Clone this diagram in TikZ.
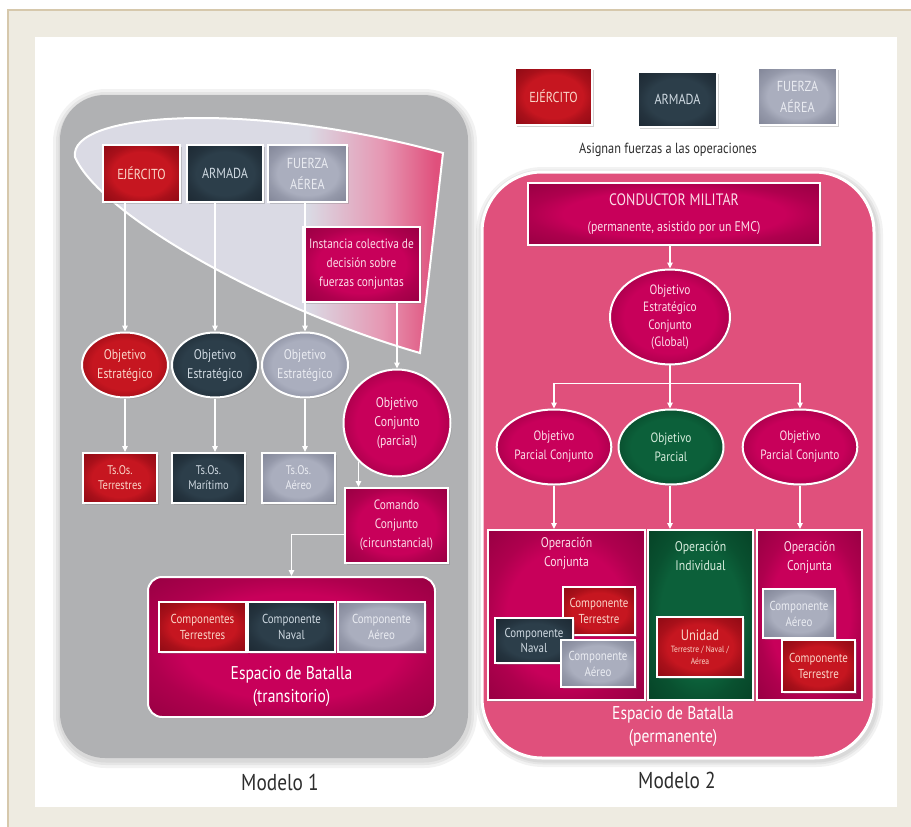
\documentclass[tikz,border=0pt]{standalone}
\usepackage{fontspec}
\setmainfont{PT Sans}[FakeStretch=0.84]
\usetikzlibrary{shapes.geometric,arrows.meta,positioning,shadows}
\definecolor{ejred}{RGB}{198,22,32}
\definecolor{ejredd}{RGB}{140,10,20}
\definecolor{armnavy}{RGB}{44,62,74}
\definecolor{armnavyd}{RGB}{28,40,50}
\definecolor{fasl}{RGB}{170,174,190}
\definecolor{fasld}{RGB}{128,132,150}
\definecolor{crim}{RGB}{200,0,90}
\definecolor{crimd}{RGB}{150,0,66}
\definecolor{opgreen}{RGB}{12,96,58}
\definecolor{opgreend}{RGB}{6,66,38}
\definecolor{panelpink}{RGB}{224,80,124}
\definecolor{panelgrey}{RGB}{176,177,179}
\definecolor{lensgrey}{RGB}{218,218,228}
\definecolor{lensmid}{RGB}{230,150,178}
\definecolor{frame}{RGB}{238,235,225}
\definecolor{frameline}{RGB}{214,200,172}
\definecolor{txred}{RGB}{250,214,200}
\definecolor{txnavy}{RGB}{208,218,226}
\definecolor{txsl}{RGB}{234,236,242}
\definecolor{txcrim}{RGB}{252,222,232}
\definecolor{txgreen}{RGB}{214,236,220}
\definecolor{caption}{RGB}{45,45,45}
\colorlet{vin}{ejred}
\colorlet{vmid}{ejred}
\colorlet{vout}{ejredd}
\pgfdeclareradialshading[vin,vmid,vout]{vign}{\pgfpointorigin}{color(0bp)=(vin); color(19bp)=(vin); color(25bp)=(vmid); color(36bp)=(vout); color(50bp)=(vout)}
\pgfdeclarehorizontalshading{lensfill}{100bp}{color(0bp)=(lensgrey); color(57bp)=(lensgrey); color(67bp)=(lensmid); color(74bp)=(panelpink); color(100bp)=(panelpink)}
\tikzset{tone/.style n args={3}{/utils/exec={\colorlet{vin}{#1}\colorlet{vmid}{#1!50!#2}\colorlet{vout}{#2}}, shade, shading=vign, text=#3}}
\tikzset{box/.style={draw=white, line width=2pt, inner sep=1pt, align=center, drop shadow={opacity=0.35, shadow xshift=1.5pt, shadow yshift=-1.5pt}, font=\fontsize{12.5}{15}\selectfont}}
\tikzset{oval/.style={box, ellipse, font=\fontsize{14}{19}\selectfont}}
\tikzset{redt/.style={tone={ejred}{ejredd}{txred}}}
\tikzset{navyt/.style={tone={armnavy}{armnavyd}{txnavy}}}
\tikzset{slatet/.style={tone={fasl}{fasld}{txsl}}}
\tikzset{crimt/.style={tone={crim}{crimd}{txcrim}}}
\tikzset{greent/.style={tone={opgreen}{opgreend}{txgreen}}}
\tikzset{head/.style={box, font=\fontsize{14.5}{21}\selectfont}}
\tikzset{comp/.style={box, font=\fontsize{13}{16}\selectfont}}
\tikzset{arr/.style={draw=white, line width=1.3pt, -{Triangle[length=6pt,width=5.5pt]}}}
\tikzset{bigtext/.style={font=\fontsize{18.5}{23}\selectfont, text=white, align=center}}
\tikzset{optext/.style={font=\fontsize{14}{19}\selectfont, align=center}}
\tikzset{modelname/.style={font=\fontsize{23}{26}\selectfont, text=caption}}

\begin{document}
\begin{tikzpicture}[x=1pt,y=-1pt]
\useasboundingbox (0,0) rectangle (911,827);
% frame
\fill[white] (0,0) rectangle (911,827);
\fill[frame] (8,10) rectangle (911,827);
\draw[frameline, line width=1.2pt] (8,827) -- (8,10) -- (911,10);
\fill[white] (35,37) rectangle (897,807);

% Modelo 1
\foreach \w in {16,10,5} \draw[black, opacity=0.05, line width=\w pt, rounded corners=45pt] (61,97) rectangle (469,760);
\fill[panelgrey, rounded corners=45pt] (60,95) rectangle (468,758);
\shadedraw[shading=lensfill, draw=white, line width=2pt] (75,157) .. controls (68,112) and (250,100) .. (443,153) -- (420,353) .. controls (270,310) and (100,215) .. cycle;

\node[head, redt, minimum width=77pt, minimum height=57pt] (ej1) at (141.5,173.5) {EJÉRCITO};
\node[head, navyt, minimum width=76pt, minimum height=57pt] (ar1) at (225,173.5) {ARMADA};
\node[head, slatet, minimum width=79pt, minimum height=57pt] (fa1) at (307.5,173.5) {FUERZA\\AÉREA};
\node[box, crimt, minimum width=117pt, minimum height=75pt, font=\fontsize{13.5}{19}\selectfont] (inst) at (361.5,264.5) {Instancia colectiva de\\decisión sobre\\fuerzas conjuntas};

\node[oval, redt, minimum width=86pt, minimum height=65pt] (oe1) at (125,365) {Objetivo\\Estratégico};
\node[oval, navyt, minimum width=86pt, minimum height=65pt] (oe2) at (215,365) {Objetivo\\Estratégico};
\node[oval, slatet, minimum width=86pt, minimum height=65pt] (oe3) at (305,365) {Objetivo\\Estratégico};
\node[oval, crimt, circle, minimum size=107pt] (obc) at (397,423) {Objetivo\\Conjunto\\(parcial)};

\node[box, redt, minimum width=74pt, minimum height=50pt] (ts1) at (120,478) {Ts.Os.\\Terrestres};
\node[box, navyt, minimum width=73pt, minimum height=50pt] (ts2) at (208.5,478) {Ts.Os.\\Marítimo};
\node[box, slatet, minimum width=73pt, minimum height=50pt] (ts3) at (298.5,478) {Ts.Os.\\Aéreo};
\node[box, crimt, minimum width=103pt, minimum height=75pt, font=\fontsize{13.5}{19}\selectfont] (cmd) at (396.5,525.5) {Comando\\Conjunto\\(circunstancial)};

\node[box, crimt, rounded corners=14pt, minimum width=287pt, minimum height=140pt] (esp1) at (291.5,647) {};
\node[comp, redt, minimum width=87pt, minimum height=50pt] (cte1) at (202.5,627) {Componentes\\Terrestres};
\node[comp, navyt, minimum width=87pt, minimum height=50pt] (cna1) at (291.5,627) {Componente\\Naval};
\node[comp, slatet, minimum width=87pt, minimum height=50pt] (cae1) at (381.5,627) {Componente\\Aéreo};
\node[bigtext] (lesp1) at (291.5,686) {Espacio de Batalla\\(transitorio)};
\node[modelname] (m1) at (280,782) {Modelo 1};

\draw[arr] (ej1.south -| oe1.north) -- (oe1.north);
\draw[arr] (ar1.south -| oe2.north) -- (oe2.north);
\draw[arr] (fa1.south -| oe3.north) -- (oe3.north);
\draw[arr] (inst.south -| obc.north) -- (obc.north);
\draw[arr] (oe1.south) -- (oe1.south |- ts1.north);
\draw[arr] (oe2.south) -- (oe2.south |- ts2.north);
\draw[arr] (oe3.south) -- (oe3.south |- ts3.north);
\draw[arr] (obc.south west) -- (obc.south west |- cmd.north);
\draw[arr] ([yshift=-9pt]cmd.west) -| (esp1.north);

% Modelo 2
\node[head, redt, minimum width=77pt, minimum height=57pt] (ej2) at (553.5,96.5) {EJÉRCITO};
\node[head, navyt, minimum width=79pt, minimum height=55pt] (ar2) at (677.5,99.5) {ARMADA};
\node[head, slatet, minimum width=79pt, minimum height=57pt] (fa2) at (797.5,96.5) {FUERZA\\AÉREA};
\node[font=\fontsize{14.7}{17}\selectfont, text=caption] (asig) at (668,150) {Asignan fuerzas a las operaciones};

\foreach \w in {14,9,5} \draw[black, opacity=0.05, line width=\w pt, rounded corners=60pt] (483,174) rectangle (876,760);
\draw[draw=white, line width=3pt, fill=panelpink, rounded corners=60pt] (482,172) rectangle (874,758);

\node[box, crimt, minimum width=292pt, minimum height=62pt, font=\fontsize{16.5}{26}\selectfont] (cond) at (674,214) {CONDUCTOR MILITAR\\{\fontsize{14}{26}\selectfont (permanente, asistido por un EMC)}};
\node[oval, crimt, minimum width=120pt, minimum height=80pt, font=\fontsize{13.5}{17.5}\selectfont] (oglob) at (670,317) {Objetivo\\Estratégico\\Conjunto\\(Global)};
\node[oval, crimt, minimum width=105pt, minimum height=75pt, font=\fontsize{13.5}{19}\selectfont] (opc1) at (554,447) {Objetivo\\Parcial Conjunto};
\node[oval, greent, minimum width=105pt, minimum height=75pt, font=\fontsize{13.5}{19}\selectfont] (opar) at (671,447) {Objetivo\\Parcial};
\node[oval, crimt, minimum width=105pt, minimum height=75pt, font=\fontsize{13.5}{19}\selectfont] (opc2) at (800,447) {Objetivo\\Parcial Conjunto};

\node[box, crimt, minimum width=157pt, minimum height=170pt] (op1) at (566.5,615) {};
\node[box, greent, minimum width=105pt, minimum height=170pt] (op2) at (700.5,615) {};
\node[box, crimt, minimum width=105pt, minimum height=170pt] (op3) at (809.5,615) {};
\node[optext, text=txcrim, below=5pt of op1.north] (lop1) {Operación\\Conjunta};
\node[optext, text=txgreen, below=9pt of op2.north] (lop2) {Operación\\Individual};
\node[optext, text=txcrim, below=9pt of op3.north] (lop3) {Operación\\Conjunta};

\node[comp, redt, minimum width=72pt, minimum height=48pt] (cte2) at (599,611) {Componente\\Terrestre};
\node[comp, navyt, minimum width=78pt, minimum height=45pt, font=\fontsize{13}{15}\selectfont] (cna2) at (534,640.5) {Componente\\Naval};
\node[comp, slatet, minimum width=74pt, minimum height=47pt] (cae2) at (598,663.5) {Componente\\Aéreo};
\node[box, redt, minimum width=86pt, minimum height=60pt, font=\fontsize{15}{12}\selectfont] (unid) at (700,647) {Unidad\\{\fontsize{9}{11}\selectfont Terrestre / Naval /}\\{\fontsize{9}{11}\selectfont Aérea}};
\node[comp, slatet, minimum width=72pt, minimum height=49pt] (cae3) at (799,613.5) {Componente\\Aéreo};
\node[comp, redt, minimum width=73pt, minimum height=52pt] (cte3) at (818.5,666) {Componente\\Terrestre};
\node[bigtext] (lesp2) at (673,726) {Espacio de Batalla\\(permanente)};
\node[modelname] (m2) at (677,780) {Modelo 2};

\draw[arr] (cond.south -| oglob.north) -- (oglob.north);
\draw[white, line width=1.3pt] (oglob.south) -- ++(0,18) coordinate (br);
\draw[arr] (br) -| (opc1.north);
\draw[arr] (br) -| (opc2.north);
\draw[arr] (br) -- (br |- opar.north);
\draw[arr] (opc1.south) -- (opc1.south |- op1.north);
\draw[arr] (opar.south -| oglob.south) -- (oglob.south |- op2.north);
\draw[arr] (opc2.south) -- (opc2.south |- op3.north);
\end{tikzpicture}
\end{document}
